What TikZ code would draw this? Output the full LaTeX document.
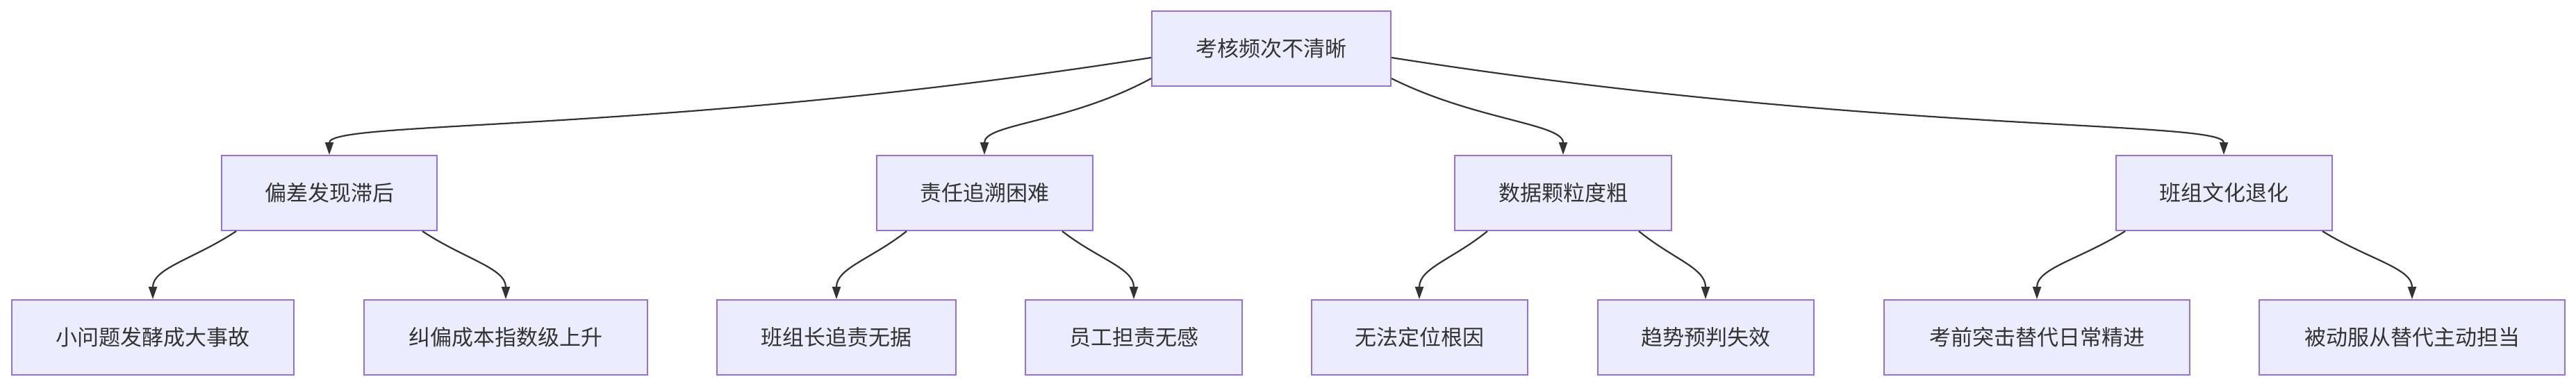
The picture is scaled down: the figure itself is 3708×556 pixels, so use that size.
\documentclass[tikz,border=0pt]{standalone}
\usepackage{fontspec}
\setmainfont{Noto Sans CJK SC}
\usetikzlibrary{arrows.meta}
\definecolor{boxfill}{HTML}{ECECFF}
\definecolor{boxline}{HTML}{9370DB}
\definecolor{edge}{HTML}{333333}
\begin{document}
\begin{tikzpicture}[x=0.5pt,y=-0.5pt,
  box/.style={draw=boxline,fill=boxfill,line width=1pt,minimum height=54pt,inner sep=0pt,font=\fontsize{15.5pt}{18pt}\selectfont,text=edge},
  arr/.style={draw=edge,line width=1.1pt,-{Triangle[length=9pt,width=6pt]}}]
\useasboundingbox (0,0) rectangle (3708,556);
\node[box,minimum width=172pt] (r) at (1830,70) {考核频次不清晰};
\node[box,minimum width=155pt] (a) at (474,278) {偏差发现滞后};
\node[box,minimum width=155.5pt] (b) at (1417,278) {责任追溯困难};
\node[box,minimum width=156pt] (c) at (2250,278) {数据颗粒度粗};
\node[box,minimum width=155.5pt] (d) at (3201,278) {班组文化退化};
\node[box,minimum width=203pt] (a1) at (220,486) {小问题发酵成大事故};
\node[box,minimum width=204pt] (a2) at (728,486) {纠偏成本指数级上升};
\node[box,minimum width=172pt] (b1) at (1204,486) {班组长追责无据};
\node[box,minimum width=156pt] (b2) at (1632,486) {员工担责无感};
\node[box,minimum width=155.5pt] (c1) at (2043,486) {无法定位根因};
\node[box,minimum width=155.5pt] (c2) at (2455,486) {趋势预判失效};
\node[box,minimum width=220pt] (d1) at (2932,486) {考前突击替代日常精进};
\node[box,minimum width=220pt] (d2) at (3472,486) {被动服从替代主动担当};
\draw[arr] ([yshift=-6.5pt]r.west) .. controls +(-700,110) and +(0,-50) .. (a.north);
\draw[arr] ([yshift=-21.5pt]r.west) .. controls +(-120,65) and +(0,-45) .. (b.north);
\draw[arr] ([yshift=-21.5pt]r.east) .. controls +(120,60) and +(0,-45) .. (c.north);
\draw[arr] ([yshift=-6.5pt]r.east) .. controls +(700,110) and +(0,-50) .. (d.north);
\foreach \p/\s/\l/\m/\dl/\dm in {a/67/a1/a2/134/134, b/56/b1/b2/112/114, c/54.5/c1/c2/109/109, d/71/d1/d2/141/144}{
  \draw[arr] ([xshift=-\s pt]\p.south) .. controls +(-0.45*\dl,40) and +(0,-45) .. (\l.north);
  \draw[arr] ([xshift=\s pt]\p.south) .. controls +(0.45*\dm,40) and +(0,-45) .. (\m.north);
}
\end{tikzpicture}
\end{document}
